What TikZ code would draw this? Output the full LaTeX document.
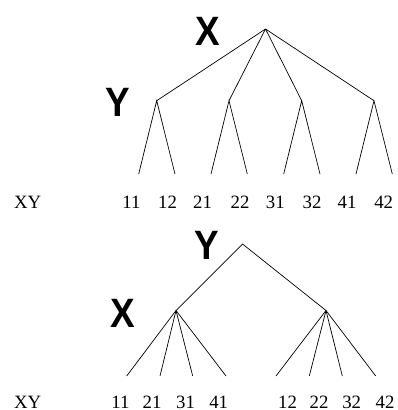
\documentclass[tikz,border=0pt]{standalone}
\usepackage{fontspec}
\setmainfont{Liberation Serif}
\newfontfamily\bigsans{Liberation Sans}
\begin{document}
\begin{tikzpicture}[x=1bp,y=-1bp,line width=0.7bp]
\tikzset{
  edge/.style={draw=black,line width=0.7bp},
  biglabel/.style={inner sep=0pt,anchor=center,font=\bigsans\bfseries\fontsize{41bp}{41bp}\selectfont},
  numlabel/.style={inner sep=0pt,anchor=base,font=\fontsize{18.8bp}{20bp}\selectfont}
}
\useasboundingbox (0,0) rectangle (398,410);
% ---------- top tree ----------
\coordinate (r1) at (265.5,29);
\coordinate (a1) at (156.7,100.7);
\coordinate (a2) at (229,100.7);
\coordinate (a3) at (301.7,100.7);
\coordinate (a4) at (374,100.7);
\foreach \n/\x in {l11/138.7,l12/175,l21/211,l22/247.3,l31/283.7,l32/320,l41/356,l42/392.3}
  \coordinate (\n) at (\x,174);
\foreach \c in {a1,a2,a3,a4} \draw[edge] (r1) -- (\c);
\draw[edge] (l11) -- (a1) -- (l12);
\draw[edge] (l21) -- (a2) -- (l22);
\draw[edge] (l31) -- (a3) -- (l32);
\draw[edge] (l41) -- (a4) -- (l42);
\node[biglabel] (tX) at (208,31.5) {\scalebox{0.9}[1]{X}};
\node[biglabel] (tY) at (117.5,102.5) {\scalebox{0.9}[1]{Y}};
\node[numlabel] (tXY) at (27.7,208.7) {XY};
\foreach \n/\x/\t in {t11/131.5/11,t12/167.5/12,t21/202.5/21,t22/240/22,t31/275.3/31,t32/312/32,t41/347/41,t42/383.7/42}
  \node[numlabel] (\n) at (\x,208.7) {\t};
% ---------- bottom tree ----------
\coordinate (r2) at (242.5,244);
\coordinate (b1) at (176,310.5);
\coordinate (b2) at (326,310.5);
\foreach \n/\x in {m11/126.7,m21/160,m31/192.7,m41/226,m12/276,m22/309.3,m32/342.3,m42/375.7}
  \coordinate (\n) at (\x,376);
\draw[edge] (b1) -- (r2) -- (b2);
\foreach \c in {m11,m21,m31,m41} \draw[edge] (b1) -- (\c);
\foreach \c in {m12,m22,m32,m42} \draw[edge] (b2) -- (\c);
\node[biglabel] (bY) at (207,245.5) {\scalebox{0.9}[1]{Y}};
\node[biglabel] (bX) at (123,313) {\scalebox{0.9}[1]{X}};
\node[numlabel] (bXY) at (27.7,408) {XY};
\foreach \n/\x/\t in {u11/120.5/11,u21/152/21,u31/185.5/31,u41/218.7/41,u12/287.5/12,u22/319/22,u32/351.7/32,u42/385/42}
  \node[numlabel] (\n) at (\x,408) {\t};
\end{tikzpicture}
\end{document}
